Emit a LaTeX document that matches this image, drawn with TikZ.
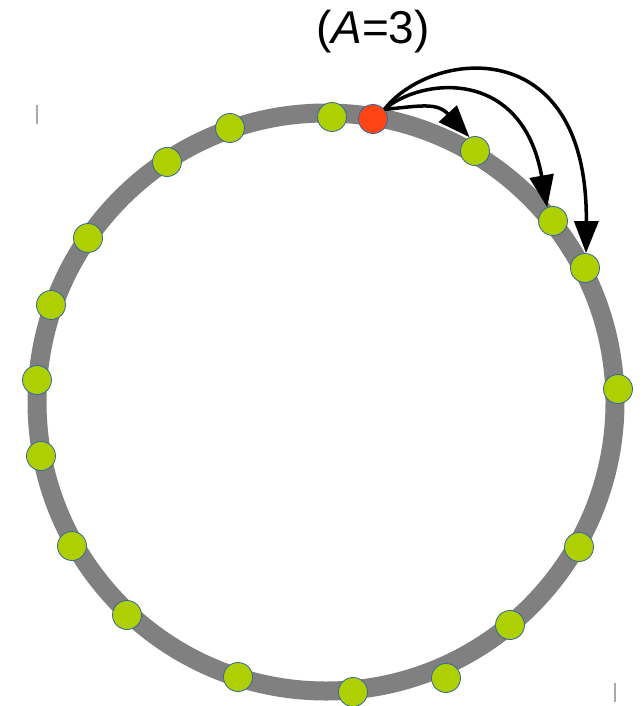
\documentclass[tikz,border=0pt]{standalone}
\usepackage{fontspec}
\setmainfont{Liberation Sans}
\usetikzlibrary{arrows.meta}
\definecolor{ringgray}{RGB}{128,128,128}
\definecolor{nodegreen}{RGB}{174,207,0}
\definecolor{nodered}{RGB}{255,69,20}
\definecolor{nodeline}{RGB}{52,101,164}
\definecolor{markgray}{RGB}{170,170,170}
\begin{document}
\begin{tikzpicture}[x=1pt,y=-1pt,
  gnode/.style={circle,draw=nodeline,line width=0.8pt,fill=nodegreen,minimum size=29pt,inner sep=0pt},
  rnode/.style={gnode,fill=nodered},
  arr/.style={line width=3.5pt,-{Triangle[length=32pt,width=24pt]}},
  markline/.style={draw=markgray,line width=1.5pt}]
\useasboundingbox (0,0) rectangle (641,706);
\draw[ringgray,line width=19pt] (326,402) circle [radius=289pt];
\node[gnode] (g1) at (332,117) {};
\node[gnode] (g2) at (230,128) {};
\node[gnode] (g3) at (167,162) {};
\node[gnode] (g4) at (88,238) {};
\node[gnode] (g5) at (51,305) {};
\node[gnode] (g6) at (37,380) {};
\node[gnode] (g7) at (41,456) {};
\node[gnode] (g8) at (72,546) {};
\node[gnode] (g9) at (127,615) {};
\node[gnode] (g10) at (238,677) {};
\node[gnode] (g11) at (353,692) {};
\node[gnode] (g12) at (446,678) {};
\node[gnode] (g13) at (510,625) {};
\node[gnode] (g14) at (579,547) {};
\node[gnode] (g15) at (618,389) {};
\node[gnode] (g16) at (585,268) {};
\node[gnode] (g17) at (553,221) {};
\node[gnode] (g18) at (475,151) {};
\node[rnode] (red) at (373,119) {};
\node[font=\fontsize{46}{54}\selectfont,anchor=base,inner sep=0pt] (title) at (373,44) {(\textit{A}=3)};
\draw[arr] (red.40) .. controls (420,106) and (437,102) .. (g18.112);
\draw[arr] (red.40) .. controls (420,78) and (522,66) .. (g17.113);
\draw[arr] (red.40) .. controls (430,50) and (588,30) .. (g16.86);
\coordinate (m1a) at (37,105);
\coordinate (m1b) at (37,124);
\coordinate (m2a) at (615,683);
\coordinate (m2b) at (615,702);
\draw[markline] (m1a) -- (m1b);
\draw[markline] (m2a) -- (m2b);
\end{tikzpicture}
\end{document}
